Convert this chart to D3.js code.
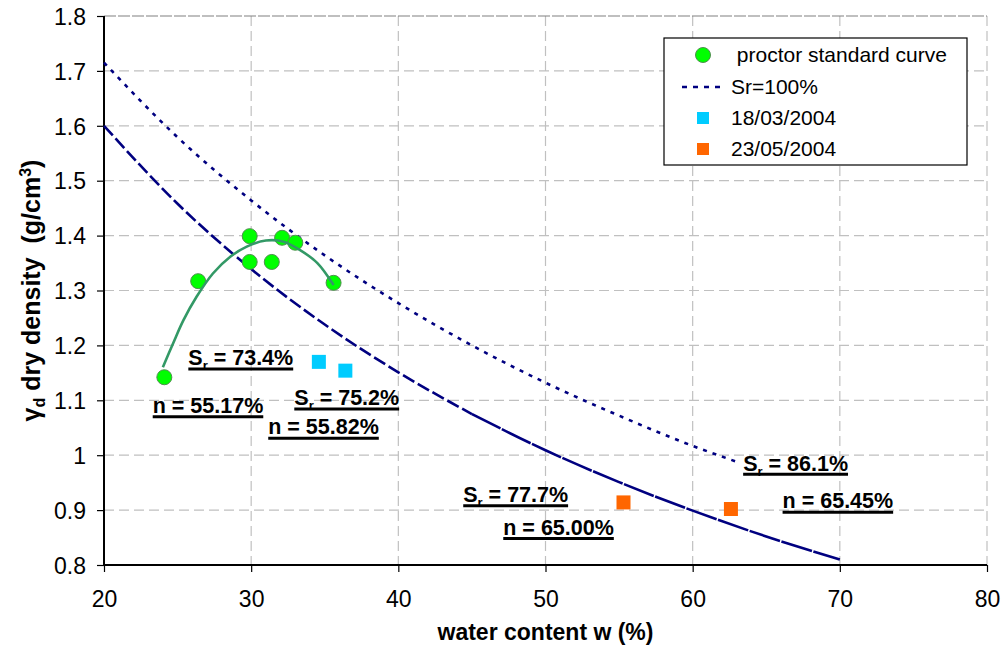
<!DOCTYPE html>
<meta charset="utf-8">
<body style="margin:0;background:#fff">
</body>
<script src="https://d3js.org/d3.v7.min.js"></script>
<script>

var width = 1005, height = 648;
var plot = {left: 104, right: 987, top: 16, bottom: 565};
var font = "'Liberation Sans', Arial, sans-serif";

// proctor standard test points (water content %, dry density g/cm3)
var proctorW = [24.1, 26.4, 29.9, 29.9, 31.4, 32.1, 33.0, 35.6];
var proctorG = [1.142, 1.317, 1.399, 1.352, 1.352, 1.396, 1.387, 1.314];
// polynomial trendline through the proctor points
var trendW = [24.0, 24.7, 25.4, 26.3, 27.4, 28.6, 29.7, 31.0, 32.2, 33.3, 34.5, 35.6];
var trendG = [1.160, 1.204, 1.246, 1.289, 1.331, 1.362, 1.380, 1.391, 1.389, 1.374, 1.350, 1.310];
// Sr = 100% saturation curve
var satW = [20, 25, 30, 35, 40, 45, 50, 55, 60, 63.1];
var satG = [1.715, 1.579, 1.464, 1.364, 1.277, 1.200, 1.132, 1.072, 1.017, 0.987];
// lower dashed curve
var lowW = [20, 25, 30, 35, 40, 45, 50, 55, 60, 65, 70];
var lowG = [1.600, 1.458, 1.339, 1.238, 1.151, 1.075, 1.009, 0.951, 0.899, 0.852, 0.810];
// field samples
var marchW = [34.6, 36.4];
var marchG = [1.170, 1.154];
var mayW = [55.3, 62.6];
var mayG = [0.914, 0.902];

// annotations
var noteKind = ["S", "n", "S", "n", "S", "n", "S", "n"];
var noteValue = ["73.4%", "55.17%", "75.2%", "55.82%", "77.7%", "65.00%", "86.1%", "65.45%"];
var noteW = [25.73, 23.31, 32.93, 31.16, 44.41, 47.13, 63.43, 66.11];
var noteG = [1.164, 1.077, 1.091, 1.038, 0.915, 0.855, 0.972, 0.903];

var xTicks = [20, 30, 40, 50, 60, 70, 80];
var yTicks = [0.8, 0.9, 1, 1.1, 1.2, 1.3, 1.4, 1.5, 1.6, 1.7, 1.8];
var legendLabels = [" proctor standard curve", "Sr=100%", "18/03/2004", "23/05/2004"];

var x = d3.scaleLinear().domain([20, 80]).range([plot.left, plot.right]);
var y = d3.scaleLinear().domain([0.8, 1.8]).range([plot.bottom, plot.top]);

var svg = d3.select("body").append("svg")
  .attr("width", width)
  .attr("height", height)
  .style("font-family", font);

// grid
svg.append("g").selectAll("line")
  .data(xTicks.slice(1))
  .enter().append("line")
  .attr("x1", function(d){ return x(d); })
  .attr("x2", function(d){ return x(d); })
  .attr("y1", plot.top).attr("y2", plot.bottom)
  .attr("stroke", "#c0c0c0").attr("stroke-width", 1.2)
  .attr("stroke-dasharray", "10,5");

svg.append("g").selectAll("line")
  .data(yTicks.slice(1))
  .enter().append("line")
  .attr("x1", plot.left).attr("x2", plot.right)
  .attr("y1", function(d){ return y(d); })
  .attr("y2", function(d){ return y(d); })
  .attr("stroke", function(d){ return d == 1.8 ? "#808080" : "#c0c0c0"; })
  .attr("stroke-width", 1.2)
  .attr("stroke-dasharray", function(d){ return d == 1.8 ? "12,2" : "10,5"; });

// axes
var xAxis = d3.axisBottom(x).tickValues(xTicks).tickSize(7).tickFormat(d3.format("d"));
var yAxis = d3.axisLeft(y).tickValues(yTicks).tickSize(7).tickFormat(function(d){ return d == 1 ? "1" : d3.format(".1f")(d); });

var gx = svg.append("g").attr("transform", "translate(0," + plot.bottom + ")").call(xAxis);
var gy = svg.append("g").attr("transform", "translate(" + plot.left + ",0)").call(yAxis);

[gx, gy].forEach(function(g){
  g.select(".domain").attr("stroke", "#000").attr("stroke-width", 2);
  g.selectAll(".tick line").attr("stroke", "#000").attr("stroke-width", 1.2);
  g.selectAll(".tick text").attr("fill", "#000").style("font-size", "23px").style("font-family", font);
});
gx.select(".domain").attr("d", "M" + plot.left + ",0H" + plot.right);
gy.select(".domain").attr("d", "M0," + plot.top + "V" + plot.bottom);
gx.selectAll(".tick text").attr("dy", null).attr("y", 42);
gy.selectAll(".tick text").attr("x", -18).attr("dy", "0.36em");

// curves
var line = d3.line()
  .x(function(d){ return x(d[0]); })
  .y(function(d){ return y(d[1]); })
  .curve(d3.curveMonotoneX);

var satData = satW.map(function(w, i){ return [w, satG[i]]; });
svg.append("path")
  .attr("d", line(satData))
  .attr("fill", "none")
  .attr("stroke", "#000080")
  .attr("stroke-width", 2.6)
  .attr("stroke-dasharray", "4,6");

var lowData = lowW.map(function(w, i){ return [w, lowG[i]]; });
svg.append("path")
  .attr("d", line(lowData.filter(function(d){ return d[0] <= 45; })))
  .attr("fill", "none")
  .attr("stroke", "#000080")
  .attr("stroke-width", 2.6)
  .attr("stroke-dasharray", "13,4");
svg.append("path")
  .attr("d", line(lowData.filter(function(d){ return d[0] >= 45; })))
  .attr("fill", "none")
  .attr("stroke", "#000080")
  .attr("stroke-width", 2.6)
  .attr("stroke-dasharray", "32,1.5");

// proctor markers
svg.append("g").selectAll("circle")
  .data(proctorW.map(function(w, i){ return [w, proctorG[i]]; }))
  .enter().append("circle")
  .attr("cx", function(d){ return x(d[0]); })
  .attr("cy", function(d){ return y(d[1]); })
  .attr("r", 7.5)
  .attr("fill", "#00ff00")
  .attr("stroke", "#4f8f4f")
  .attr("stroke-width", 1);

// trendline
var trendLine = d3.line()
  .x(function(d){ return x(d[0]); })
  .y(function(d){ return y(d[1]); })
  .curve(d3.curveCatmullRom);
svg.append("path")
  .attr("d", trendLine(trendW.map(function(w, i){ return [w, trendG[i]]; })))
  .attr("fill", "none")
  .attr("stroke", "#339966")
  .attr("stroke-width", 2.6);

// field sample squares
function squares(ws, gs, color) {
  svg.append("g").selectAll("rect")
    .data(ws.map(function(w, i){ return [w, gs[i]]; }))
    .enter().append("rect")
    .attr("x", function(d){ return x(d[0]) - 7; })
    .attr("y", function(d){ return y(d[1]) - 7; })
    .attr("width", 14).attr("height", 14)
    .attr("fill", color);
}
squares(marchW, marchG, "#00ccff");
squares(mayW, mayG, "#ff6600");

// annotations
noteKind.forEach(function(k, i){
  var bx = x(noteW[i]), by = y(noteG[i]);
  var t = svg.append("text")
    .attr("x", bx).attr("y", by)
    .style("font-size", "21.5px")
    .style("font-weight", "bold")
    .style("white-space", "pre")
    .attr("fill", "#000");
  if (k == "S") {
    t.append("tspan").text("S");
    t.append("tspan").attr("dy", 5).style("font-size", "13px").text("r");
    t.append("tspan").attr("dy", -5).text(" = " + noteValue[i]);
  } else {
    t.text("n = " + noteValue[i]);
  }
  var bb = t.node().getBBox();
  svg.append("line")
    .attr("x1", bb.x).attr("x2", bb.x + bb.width)
    .attr("y1", by + 3.8).attr("y2", by + 3.8)
    .attr("stroke", "#000").attr("stroke-width", 3);
});

// axis titles
svg.append("text")
  .attr("x", (plot.left + plot.right) / 2)
  .attr("y", 640)
  .attr("text-anchor", "middle")
  .style("font-size", "23px")
  .style("font-weight", "bold")
  .text("water content w (%)");

var yt = svg.append("text")
  .attr("transform", "translate(40," + ((plot.top + plot.bottom) / 2) + ") rotate(-90)")
  .attr("text-anchor", "middle")
  .style("font-size", "25px")
  .style("font-weight", "bold")
  .style("white-space", "pre");
yt.append("tspan").text("γ");
yt.append("tspan").attr("dy", 5).style("font-size", "16px").text("d");
yt.append("tspan").attr("dy", -5).text(" dry density  (g/cm");
yt.append("tspan").attr("dy", -9).style("font-size", "16px").text("3");
yt.append("tspan").attr("dy", 9).text(")");

// legend
var lg = svg.append("g");
lg.append("rect")
  .attr("x", 664).attr("y", 38)
  .attr("width", 303).attr("height", 127)
  .attr("fill", "#fff")
  .attr("stroke", "#000")
  .attr("stroke-width", 1.2);
var rowY = [55, 87, 118, 149];
lg.append("circle").attr("cx", 703).attr("cy", rowY[0]).attr("r", 7.5)
  .attr("fill", "#00ff00").attr("stroke", "#4f8f4f");
lg.append("line").attr("x1", 682).attr("x2", 726).attr("y1", rowY[1]).attr("y2", rowY[1])
  .attr("stroke", "#000080").attr("stroke-width", 2.6).attr("stroke-dasharray", "5,6");
lg.append("rect").attr("x", 697).attr("y", rowY[2] - 6).attr("width", 12).attr("height", 12).attr("fill", "#00ccff");
lg.append("rect").attr("x", 697).attr("y", rowY[3] - 6).attr("width", 12).attr("height", 12).attr("fill", "#ff6600");
lg.selectAll("text.lab")
  .data(legendLabels)
  .enter().append("text")
  .attr("class", "lab")
  .attr("x", 731)
  .attr("y", function(d, i){ return rowY[i] + 7; })
  .style("font-size", "21px")
  .style("white-space", "pre")
  .text(function(d){ return d; });

</script>
